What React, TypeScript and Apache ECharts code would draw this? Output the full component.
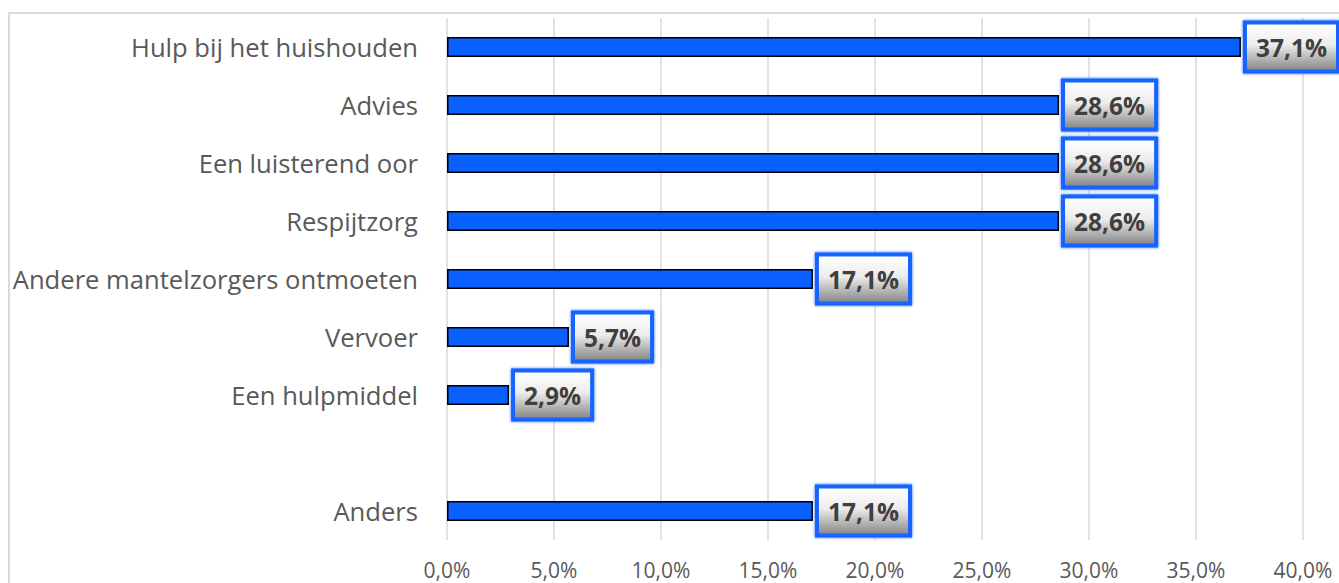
import React, { useEffect, useRef } from "react";
import * as echarts from "echarts";

const categories = [
  "Hulp bij het huishouden",
  "Advies",
  "Een luisterend oor",
  "Respijtzorg",
  "Andere mantelzorgers ontmoeten",
  "Vervoer",
  "Een hulpmiddel",
  "",
  "Anders",
];
const values: (number | string)[] = [37.1, 28.6, 28.6, 28.6, 17.1, 5.7, 2.9, "-", 17.1];
const xMin = 0;
const xMax = 40;
const xInterval = 5;

const fmt = (v: number) => v.toFixed(1).replace(".", ",") + "%";

export default function App() {
  const ref = useRef<HTMLDivElement>(null);
  useEffect(() => {
    if (!ref.current) return;
    const chart = echarts.init(ref.current, null, { renderer: "svg" });
    chart.setOption({
      animation: false,
      backgroundColor: "#ffffff",
      graphic: [
        {
          type: "rect",
          shape: { x: 9, y: 13, width: 1400, height: 700 },
          style: { fill: "none", stroke: "#d9d9d9", lineWidth: 2 },
          silent: true,
          z: -10,
        },
      ],
      grid: { left: 447, right: 36, top: 18, bottom: 43, containLabel: false },
      xAxis: {
        type: "value",
        min: xMin,
        max: xMax,
        interval: xInterval,
        axisLine: { show: false },
        axisTick: { show: false },
        splitLine: { show: true, lineStyle: { color: "#d9d9d9", width: 1.5 } },
        axisLabel: {
          formatter: (v: number) => fmt(v),
          color: "#595959",
          fontSize: 21,
          fontFamily: "Open Sans",
          margin: 19,
        },
      },
      yAxis: {
        type: "category",
        data: categories,
        inverse: true,
        axisLine: { show: false },
        axisTick: { show: false },
        axisLabel: {
          color: "#595959",
          fontSize: 25.6,
          fontFamily: "Open Sans",
          margin: 29,
        },
      },
      series: [
        {
          type: "bar",
          data: values,
          barWidth: 20,
          itemStyle: { color: "#0a5fff", borderColor: "#000000", borderWidth: 1.5 },
          label: {
            show: true,
            position: "right",
            distance: 6,
            formatter: (p: any) => fmt(p.value),
            fontFamily: "Open Sans",
            fontWeight: "bold",
            fontSize: 24.5,
            color: "#3f3f3f",
            lineHeight: 30,
            padding: [8, 9, 7, 9],
            borderColor: "#1463ff",
            borderWidth: 4,
            shadowColor: "rgba(20,99,255,0.9)",
            shadowBlur: 3,
            backgroundColor: new echarts.graphic.LinearGradient(0, 0, 0, 1, [
              { offset: 0, color: "#ffffff" },
              { offset: 0.45, color: "#ececec" },
              { offset: 1, color: "#8a8a8a" },
            ]),
          },
        },
      ],
    });
    return () => chart.dispose();
  }, []);
  return (
    <div
      ref={ref}
      style={{ position: "absolute", left: 0, top: 0, width: 1339, height: 583 }}
    />
  );
}
